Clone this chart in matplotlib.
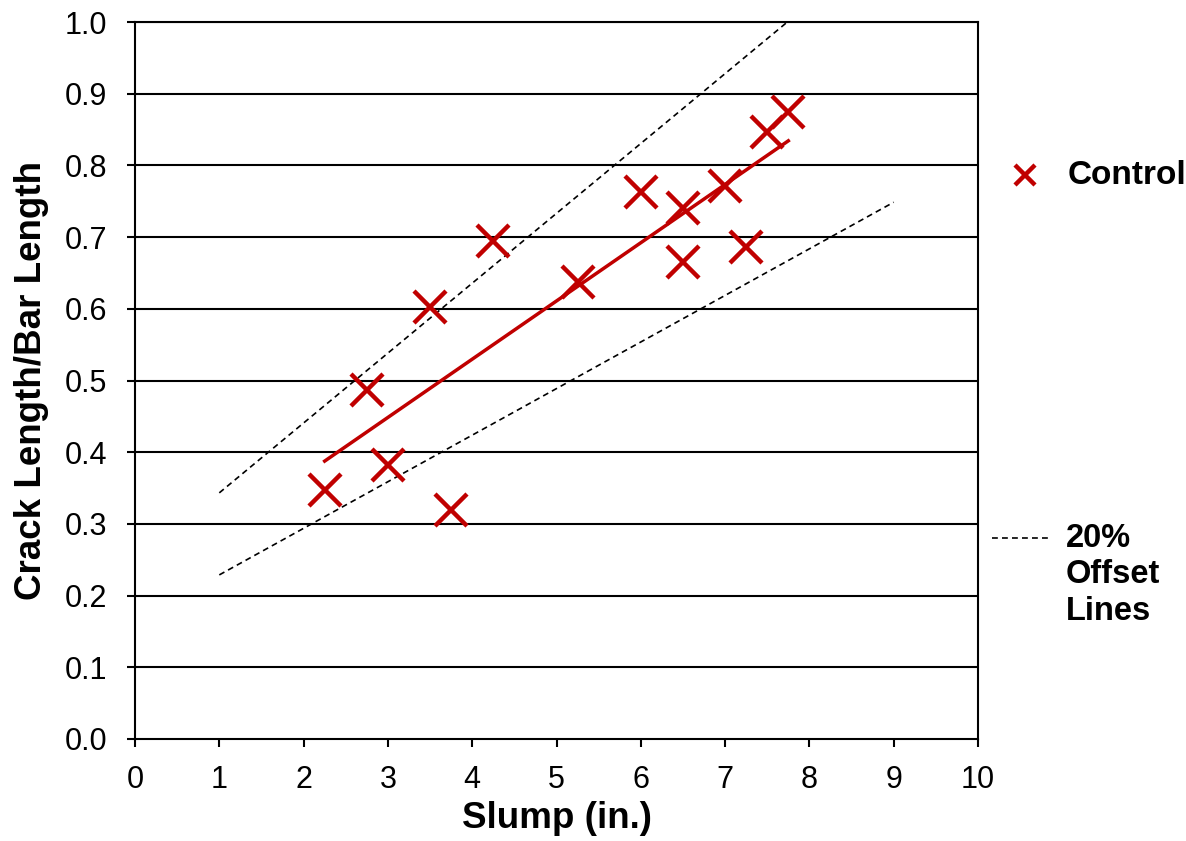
import numpy as np
import matplotlib.pyplot as plt

plt.rcParams['font.family'] = ['Liberation Sans', 'DejaVu Sans']

# data
slump = [2.25, 2.75, 3.0, 3.5, 3.75, 4.25, 5.25, 6.0, 6.5, 6.5, 7.0, 7.25, 7.5, 7.75]
crack_ratio = [0.347, 0.487, 0.382, 0.603, 0.319, 0.695, 0.637, 0.763, 0.740,
               0.665, 0.771, 0.686, 0.847, 0.875]
offset_range = [1, 9]
offset_pct = 0.20

red = '#C00000'
dash = (0, (3.5, 2.5))

fig = plt.figure(figsize=(11.86, 8.41), dpi=100)
ax = fig.add_axes([135/1186, 102/841, 843/1186, 717/841])

# grid lines
for yv in np.arange(0.1, 1.01, 0.1):
    ax.axhline(yv, color='black', lw=1.5, zorder=1)

# linear trend and 20% offset lines
slope, icpt = np.polyfit(slump, crack_ratio, 1)
xt = np.array([min(slump), max(slump)])
ax.plot(xt, slope * xt + icpt, color=red, lw=2.5, zorder=3)
xo = np.array(offset_range, dtype=float)
for f in (1 + offset_pct, 1 - offset_pct):
    ax.plot(xo, f * (slope * xo + icpt), color='black', lw=1.2,
            linestyle=dash, zorder=2)

ax.plot(slump, crack_ratio, linestyle='none', marker='x', color=red,
        markersize=23, mew=3.2, zorder=4)

ax.set_xlim(0, 10)
ax.set_ylim(0, 1.0)
ax.set_xticks(range(0, 11))
ax.set_yticks(np.arange(0, 1.01, 0.1))
ax.set_yticklabels([f'{v:.1f}' for v in np.arange(0, 1.01, 0.1)])
ax.tick_params(labelsize=22, length=6, width=1.5, direction='out')
ax.tick_params(axis='x', pad=13)
ax.tick_params(axis='y', pad=14)
for s in ax.spines.values():
    s.set_linewidth(1.5)

ax.set_xlabel('Slump (in.)', fontsize=26.5, fontweight='bold', labelpad=4)
ax.set_ylabel('Crack Length/Bar Length', fontsize=26.5, fontweight='bold', labelpad=11)

# legend drawn by hand on the right
fig.lines.append(plt.Line2D([1025/1186], [1 - 175/841], transform=fig.transFigure,
                            marker='x', color=red, markersize=15, mew=3.2, linestyle='none'))
fig.text(1068/1186, 1 - 175/841, 'Control', fontsize=24, fontweight='bold',
         va='center', ha='left')
fig.lines.append(plt.Line2D([992/1186, 1050/1186], [1 - 538/841, 1 - 538/841],
                            transform=fig.transFigure, color='black', lw=1.2,
                            linestyle=dash))
fig.text(1066/1186, 1 - 523/841, '20%\nOffset\nLines', fontsize=23.5, fontweight='bold',
         va='top', ha='left', linespacing=1.22)

fig.savefig('out.png', dpi=100)
